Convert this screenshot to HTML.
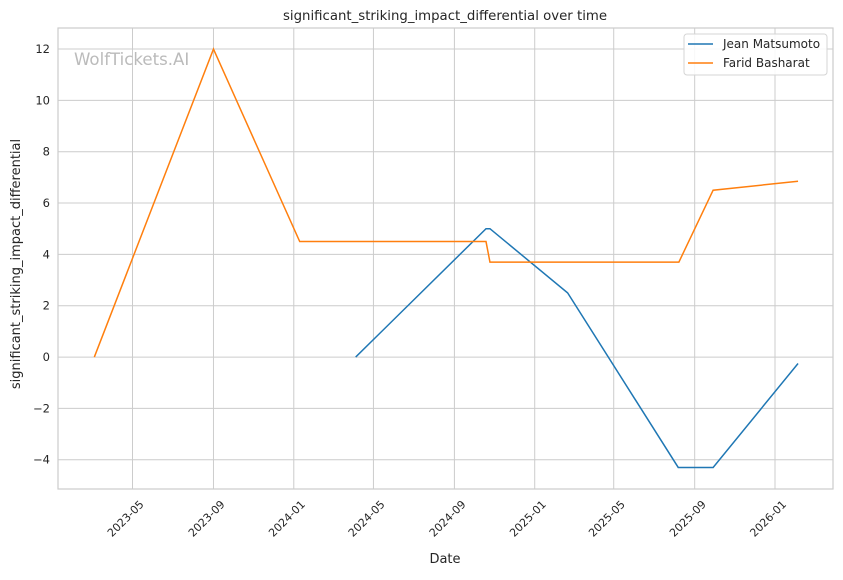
<!DOCTYPE html>
<html><head><meta charset="utf-8"><style>
body{margin:0;background:#fff;}
svg text{font-family:"DejaVu Sans","Liberation Sans",sans-serif;fill:#262626;}
</style></head><body>
<svg id="chart" width="843" height="575" xmlns="http://www.w3.org/2000/svg">
<rect width="843" height="575" fill="#fff"/>
<g id="grid"></g>
<g id="series"></g>
<g id="axes"></g>
</svg>
<script>
const yTicks=[-4,-2,0,2,4,6,8,10,12];
const xTickLabels=["2023-05","2023-09","2024-01","2024-05","2024-09","2025-01","2025-05","2025-09","2026-01"];
const jeanDates=["2024-04-04","2024-10-19","2024-10-25","2025-02-20","2025-08-07","2025-09-29","2026-02-05"];
const jeanValues=[0,5,5,2.5,-4.3,-4.3,-0.25];
const faridDates=["2023-03-04","2023-09-01","2024-01-10","2024-10-19","2024-10-25","2025-08-08","2025-09-29","2026-02-05"];
const faridValues=[0,12,4.5,4.5,3.7,3.7,6.5,6.85];

const L=58,R=833,T=28,B=489;
const yMin=-5.14,yMax=12.82;
const d0=Date.parse("2023-05-01"),d1=Date.parse("2026-01-01"),x0=132.5,x1=775;
function xs(d){return x0+(Date.parse(d)-d0)/(d1-d0)*(x1-x0);}
function ys(v){return B-(v-yMin)/(yMax-yMin)*(B-T);}
const NS="http://www.w3.org/2000/svg";
function mk(tag,attrs,parent){const e=document.createElementNS(NS,tag);for(const k in attrs)e.setAttribute(k,attrs[k]);parent.appendChild(e);return e;}
const grid=document.getElementById('grid'),axes=document.getElementById('axes'),ser=document.getElementById('series');

yTicks.forEach(v=>{
  const y=ys(v);
  const g=mk('line',{x1:L,x2:R,y1:y,y2:y,stroke:'#cccccc','stroke-width':1},grid);
  
  
  const t=mk('text',{x:L-8,y:y+4,'text-anchor':'end','font-size':11.5},axes);
  t.textContent=(v<0?'\u2212'+Math.abs(v):v);
  
  
});
xTickLabels.forEach(s=>{
  const x=xs(s+"-01");
  const g=mk('line',{x1:x,x2:x,y1:T,y2:B,stroke:'#cccccc','stroke-width':1},grid);
  
  
  const t=mk('text',{x:x+12,y:505,'text-anchor':'end','font-size':11,transform:`rotate(-45 ${x+12} 505)`},axes);
  t.textContent=s;
  
  
});
const fr=mk('rect',{x:L,y:T,width:R-L,height:B-T,fill:'none',stroke:'#cccccc','stroke-width':1.2},axes);



function drawLine(dates,vals,color,name){
  const p=mk('polyline',{points:dates.map((d,i)=>xs(d)+','+ys(vals[i])).join(' '),fill:'none',stroke:color,'stroke-width':1.5},ser);
  
  
}
drawLine(jeanDates,jeanValues,'#1f77b4','jean-matsumoto-line');
drawLine(faridDates,faridValues,'#ff7f0e','farid-basharat-line');

function txt(x,y,s,attrs,name){const t=mk('text',Object.assign({x:x,y:y},attrs),axes);t.textContent=s;return t;}
txt(74,65,'WolfTickets.AI',{'font-size':16.6,style:'fill:#bbbbbb'},'watermark');
txt(445,20,'significant_striking_impact_differential over time',{'font-size':13.3,'text-anchor':'middle'},'chart-title');
txt(445,563,'Date',{'font-size':13,'text-anchor':'middle'},'x-axis-title');
txt(20,264,'significant_striking_impact_differential',{'font-size':13,'text-anchor':'middle',transform:'rotate(-90 20 264)'},'y-axis-title');

const lg=mk('g',{},axes);


mk('rect',{x:684,y:34,width:143,height:41,rx:3,fill:'#fff','fill-opacity':0.85,stroke:'#d5d5d5'},lg);
[['Jean Matsumoto','#1f77b4',44],['Farid Basharat','#ff7f0e',63]].forEach(([n,c,y])=>{
  const l=mk('line',{x1:688,x2:713,y1:y,y2:y,stroke:c,'stroke-width':1.5},lg);
  
  
  const t=mk('text',{x:723,y:y+4,'font-size':12},lg);
  t.textContent=n;
  
  
});
</script>
</body></html>
